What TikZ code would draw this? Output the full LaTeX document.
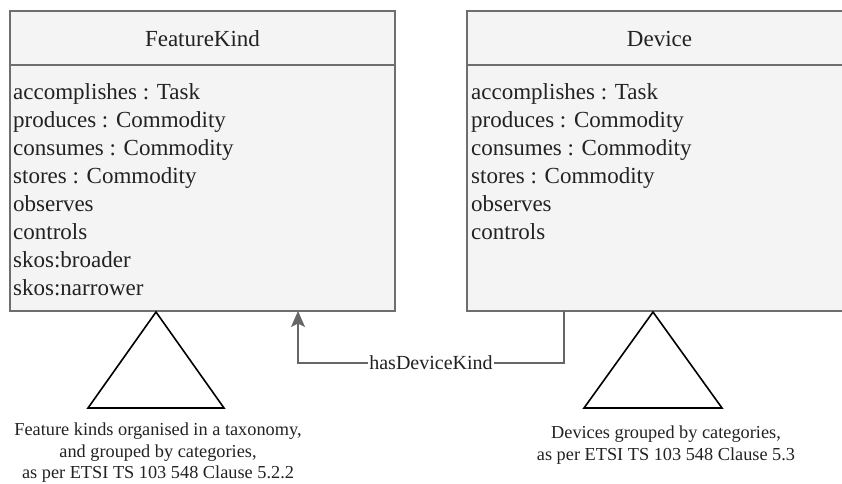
\documentclass[tikz,border=0pt]{standalone}
\usepackage{fontspec}
\setmainfont{Liberation Serif}
\usetikzlibrary{arrows.meta}
\definecolor{boxfill}{HTML}{F4F4F4}
\definecolor{boxline}{HTML}{6E6E6E}
\definecolor{linkgray}{HTML}{666666}
\definecolor{txt}{HTML}{222222}
\tikzset{
  classbox/.style={draw=boxline, line width=1.8pt, fill=boxfill, rectangle,
    minimum width=385pt, minimum height=300pt, inner sep=0pt},
  headtext/.style={anchor=base, inner sep=0pt, font=\fontsize{23}{28}\selectfont, text=txt},
  attrtext/.style={anchor=base west, inner sep=0pt,
    font=\fontsize{23}{28}\selectfont, text=txt},
  captext/.style={anchor=base, inner sep=0pt,
    font=\fontsize{18.3}{22}\selectfont, text=txt},
  taxo/.style={draw=black, line width=1.6pt, line join=miter},
  link/.style={draw=linkgray, line width=1.5pt},
  linklabel/.style={fill=white, inner sep=1pt, font=\fontsize{20}{24}\selectfont, text=txt}
}
\begin{document}
\begin{tikzpicture}[x=1pt,y=-1pt]
  \useasboundingbox (0,0) rectangle (842,483);

  % class boxes (the Device box runs past the right edge)
  \node[classbox] (fk) at (202.5,161) {};
  \node[classbox] (dev) at (659.5,161) {};
  \draw[boxline, line width=1.8pt] (fk.west |- 0,65) -- (fk.east |- 0,65);
  \draw[boxline, line width=1.8pt] (dev.west |- 0,65) -- (dev.east |- 0,65);

  % headers
  \node[headtext] (fkname) at (202.5,46) {FeatureKind};
  \node[headtext] (devname) at (659.5,46) {Device};

  % attributes, one line each
  \foreach \t [count=\i] in {accomplishes : Task, produces : Commodity,
      consumes : Commodity, stores : Commodity, observes, controls,
      skos:broader, skos:narrower}
    \node[attrtext] (fkattr\i) at (13,{99+28.1*(\i-1)}) {\t};
  \foreach \t [count=\i] in {accomplishes : Task, produces : Commodity,
      consumes : Commodity, stores : Commodity, observes, controls}
    \node[attrtext] (devattr\i) at (471,{99+28.1*(\i-1)}) {\t};

  % taxonomy / category triangles under each class
  \coordinate (fktop) at (156,312);
  \coordinate (devtop) at (653,312);
  \draw[taxo] (fktop) -- (88,408) -- (224,408) -- cycle;
  \draw[taxo] (devtop) -- (584,408) -- (722,408) -- cycle;

  % hasDeviceKind link
  \coordinate (devfoot) at (564,311);
  \coordinate (fkfoot) at (298,311);
  \draw[link, -{Stealth[width=14pt,length=16pt,inset=3.5pt]}] (devfoot) -- (564,363)
    -- node[linklabel] (hdk) {hasDeviceKind} (298,363) -- (fkfoot);

  % captions
  \node[captext] (fkcap1) at (158,435) {Feature kinds organised in a taxonomy,};
  \node[captext] (fkcap2) at (158,457) {and grouped by categories,};
  \node[captext] (fkcap3) at (158,478.5) {as per ETSI TS 103 548 Clause 5.2.2};
  \node[captext] (devcap1) at (666,438) {Devices grouped by categories,};
  \node[captext] (devcap2) at (666,460) {as per ETSI TS 103 548 Clause 5.3};
\end{tikzpicture}
\end{document}
